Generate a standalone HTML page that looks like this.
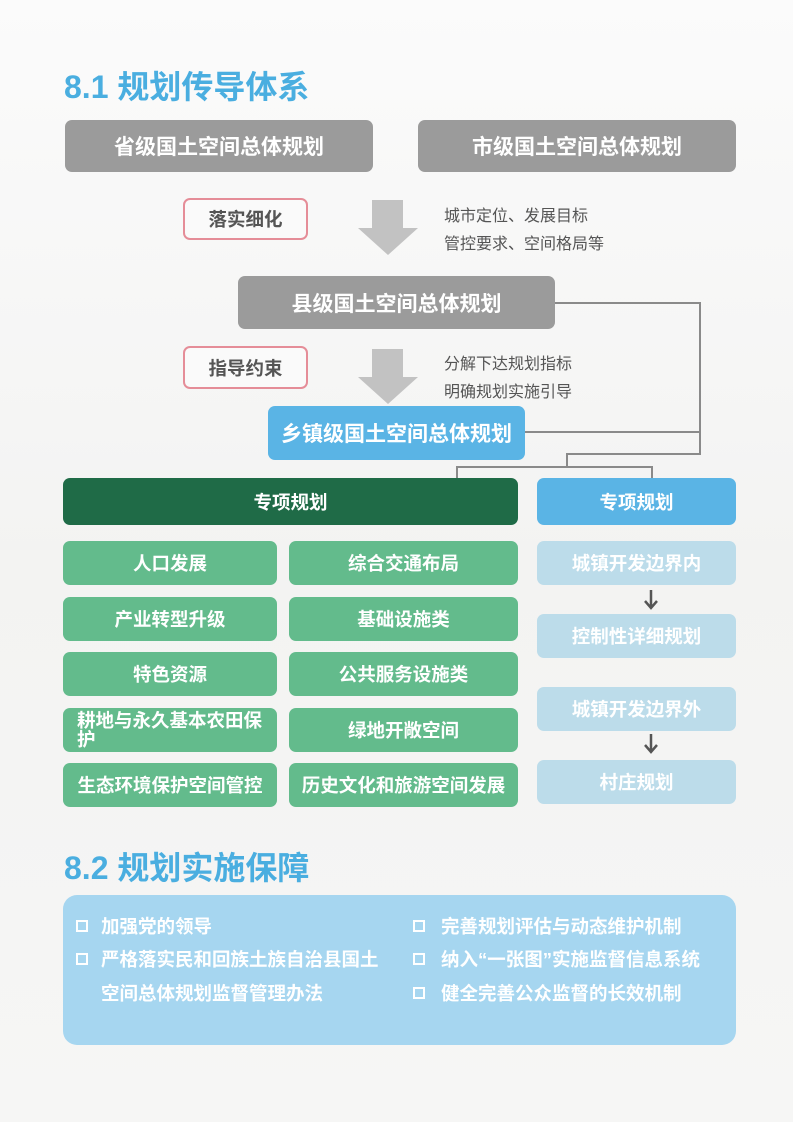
<!DOCTYPE html>
<html><head><meta charset="utf-8"><style>
*{margin:0;padding:0;box-sizing:border-box}
body{width:793px;height:1122px;position:relative;overflow:hidden;background:linear-gradient(#fbfbfb,#f3f3f2 50%,#f6f6f5);font-family:"Liberation Sans","Noto Sans CJK SC",sans-serif}
.a{position:absolute}
.t{color:#4aaee0;font-size:32px;font-weight:bold}
.b{position:absolute;display:flex;align-items:center;justify-content:center;color:#fff;font-weight:bold;border-radius:7px;font-size:18.5px}
.g{background:#9b9b9b;font-size:21px}
.p{border:2px solid #e58d98;background:#fafafa;color:#555;font-size:18.5px;border-radius:7px}
.gr{background:#63bb8c;font-size:18.5px}
.lb{background:#bcdcea;font-size:18.5px}
.s{font-size:16px;color:#555}
.ln{position:absolute;background:#8a8a8a}
.li{position:absolute;color:#fff;font-size:18.5px;font-weight:bold}
.cb{position:absolute;width:12px;height:12px;border:2px solid #fff}
</style></head><body>
<div class="a t" style="left:64px;top:62px">8.1 规划传导体系</div>
<div class="b g" style="left:65px;top:120px;width:308px;height:52px">省级国土空间总体规划</div>
<div class="b g" style="left:418px;top:120px;width:318px;height:52px">市级国土空间总体规划</div>
<div class="b p" style="left:183px;top:198px;width:125px;height:42px">落实细化</div>
<svg class="a" style="left:355px;top:198px" width="66" height="60"><polygon points="17,2 48,2 48,30 63,30 33,57 3,30 17,30" fill="#c2c2c2"/></svg>
<div class="a s" style="left:444px;top:202px">城市定位、发展目标</div>
<div class="a s" style="left:444px;top:230px">管控要求、空间格局等</div>
<div class="b g" style="left:238px;top:276px;width:317px;height:53px">县级国土空间总体规划</div>
<div class="b p" style="left:183px;top:346px;width:125px;height:43px">指导约束</div>
<svg class="a" style="left:355px;top:347px" width="66" height="60"><polygon points="17,2 48,2 48,30 63,30 33,57 3,30 17,30" fill="#c2c2c2"/></svg>
<div class="a s" style="left:444px;top:350px">分解下达规划指标</div>
<div class="a s" style="left:444px;top:378px">明确规划实施引导</div>
<div class="b" style="left:268px;top:406px;width:257px;height:54px;background:#5ab4e5;font-size:21px">乡镇级国土空间总体规划</div>
<div class="ln" style="left:555px;top:302px;width:146px;height:2px"></div>
<div class="ln" style="left:699px;top:302px;width:2px;height:153px"></div>
<div class="ln" style="left:525px;top:431px;width:176px;height:2px"></div>
<div class="ln" style="left:567px;top:453px;width:134px;height:2px"></div>
<div class="ln" style="left:566px;top:453px;width:2px;height:14px"></div>
<div class="ln" style="left:456px;top:466px;width:197px;height:2px"></div>
<div class="ln" style="left:456px;top:466px;width:2px;height:12px"></div>
<div class="ln" style="left:651px;top:466px;width:2px;height:12px"></div>
<div class="b" style="left:63px;top:478px;width:455px;height:47px;background:#1f6b47">专项规划</div>
<div class="b" style="left:537px;top:478px;width:199px;height:47px;background:#5ab4e5">专项规划</div>
<div class="b gr" style="left:63px;top:541px;width:214px;height:44px">人口发展</div>
<div class="b gr" style="left:289px;top:541px;width:229px;height:44px">综合交通布局</div>
<div class="b gr" style="left:63px;top:597px;width:214px;height:44px">产业转型升级</div>
<div class="b gr" style="left:289px;top:597px;width:229px;height:44px">基础设施类</div>
<div class="b gr" style="left:63px;top:652px;width:214px;height:44px">特色资源</div>
<div class="b gr" style="left:289px;top:652px;width:229px;height:44px">公共服务设施类</div>
<div class="b gr" style="left:63px;top:708px;width:214px;height:44px;line-height:19px;display:block;padding:3px 10px 0 14px">耕地与永久基本农田保护</div>
<div class="b gr" style="left:289px;top:708px;width:229px;height:44px">绿地开敞空间</div>
<div class="b gr" style="left:63px;top:763px;width:214px;height:44px">生态环境保护空间管控</div>
<div class="b gr" style="left:289px;top:763px;width:229px;height:44px">历史文化和旅游空间发展</div>
<div class="b lb" style="left:537px;top:541px;width:199px;height:44px">城镇开发边界内</div>
<div class="b lb" style="left:537px;top:614px;width:199px;height:44px">控制性详细规划</div>
<div class="b lb" style="left:537px;top:687px;width:199px;height:44px">城镇开发边界外</div>
<div class="b lb" style="left:537px;top:760px;width:199px;height:44px">村庄规划</div>
<svg class="a" style="left:643px;top:589px" width="16" height="22"><path d="M8 1V18M2 12L8 19L14 12" stroke="#555" stroke-width="2.5" fill="none"/></svg>
<svg class="a" style="left:643px;top:733px" width="16" height="22"><path d="M8 1V18M2 12L8 19L14 12" stroke="#555" stroke-width="2.5" fill="none"/></svg>
<div class="a t" style="left:64px;top:843px">8.2 规划实施保障</div>
<div class="a" style="left:63px;top:895px;width:673px;height:150px;background:#a6d6f0;border-radius:14px"></div>
<div class="cb" style="left:76px;top:920px"></div><div class="li" style="left:101px;top:913px">加强党的领导</div>
<div class="cb" style="left:76px;top:953px"></div><div class="li" style="left:101px;top:946px">严格落实民和回族土族自治县国土</div>
<div class="li" style="left:101px;top:980px">空间总体规划监督管理办法</div>
<div class="cb" style="left:413px;top:920px"></div><div class="li" style="left:441px;top:913px">完善规划评估与动态维护机制</div>
<div class="cb" style="left:413px;top:953px"></div><div class="li" style="left:441px;top:946px">纳入“一张图”实施监督信息系统</div>
<div class="cb" style="left:413px;top:987px"></div><div class="li" style="left:441px;top:980px">健全完善公众监督的长效机制</div>
</body></html>
